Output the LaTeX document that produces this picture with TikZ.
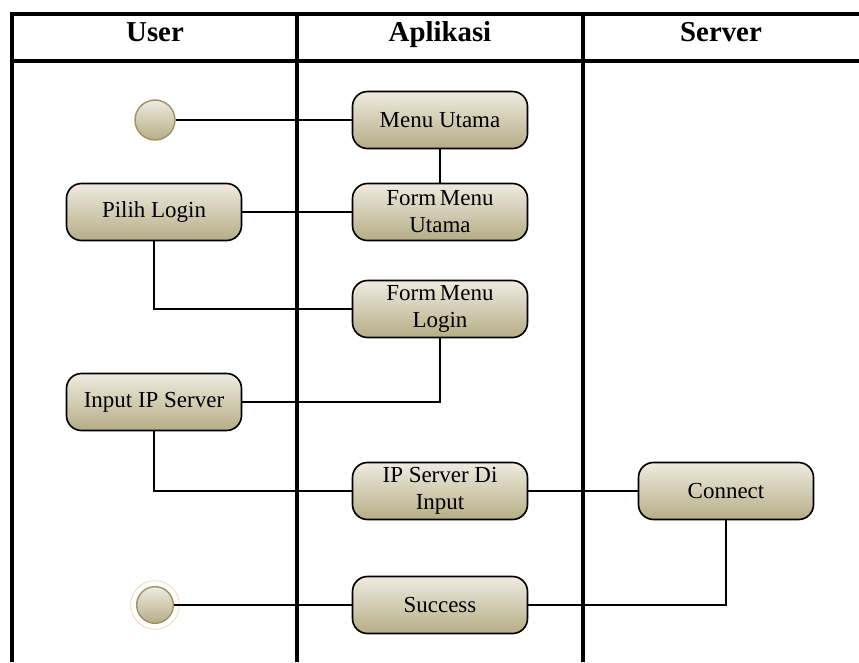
\documentclass[tikz,border=0pt]{standalone}
\usepackage{fontspec}
\setmainfont{Liberation Serif}
\usetikzlibrary{calc}

\definecolor{actTop}{RGB}{238,235,224}
\definecolor{actBot}{RGB}{182,173,134}
\definecolor{actEdge}{RGB}{158,145,100}
\definecolor{ringEdge}{RGB}{246,200,165}

\begin{document}
\begin{tikzpicture}[%
            x=0.03cm, y=-0.03cm,
            lane/.style={line width=2.8pt},
            flow/.style={line width=1.2pt},
            activity/.style={%
            draw, line width=1.4pt, rounded corners=0.45cm,
            top color=actTop, bottom color=actBot,
            minimum width=5.25cm, minimum height=1.71cm,
            align=center, inner sep=0pt,
            font=\fontsize{19.6}{23}\selectfont
            },
            state/.style={%
            circle, draw=actEdge, line width=1.2pt,
            top color=actTop, bottom color=actBot,
            inner sep=0pt
            },
            header/.style={anchor=base, font=\fontsize{24.6}{28}\selectfont\bfseries}
            ]
            \useasboundingbox (0,0) rectangle (859,662);

            % swimlanes
            \draw[lane] (859,14) -- (12,14) -- (12,662);
            \draw[lane] (12,61) -- (859,61);
            \draw[lane] (297,14) -- (297,662);
            \draw[lane] (583,14) -- (583,662);

            \node[header] (huser) at (155,41) {User};
            \node[header] (happ)  at (440,41) {Aplikasi};
            \node[header] (hsrv)  at (721,41) {Server};

            % activities
            \node[state, minimum size=1.2cm] (start) at (155,120) {};
            \node[activity] (menuutama) at (440,120) {Menu Utama};
            \node[activity] (formutama) at (440,212) {Form\,Menu\\Utama};
            \node[activity] (pilih)     at (154,212) {Pilih Login};
            \node[activity] (formlogin) at (440,309) {Form\,Menu\\Login};
            \node[activity] (inputip)   at (154,402) {Input IP Server};
            \node[activity] (ipinput)   at (440,491) {IP Server Di\\Input};
            \node[activity] (connect)   at (726,491) {Connect};
            \node[activity] (success)   at (440,605) {Success};
            \node[state, minimum size=1.1cm] (end) at (155,605) {};
            \draw[ringEdge, line width=0.5pt] (end.center) circle[radius=0.73cm];

            % flow
            \path[flow]
            (start)     edge               (menuutama)
            (menuutama) edge               (formutama)
            (pilih)     edge               (formutama)
            (pilih)     edge[to path={|- (\tikztotarget)}] (formlogin)
            (formlogin) edge[to path={|- (\tikztotarget)}] (inputip)
            (inputip)   edge[to path={|- (\tikztotarget)}] (ipinput)
            (ipinput)   edge               (connect)
            (connect)   edge[to path={|- (\tikztotarget)}] (success)
            (success)   edge               (end);
        \end{tikzpicture}
\end{document}
